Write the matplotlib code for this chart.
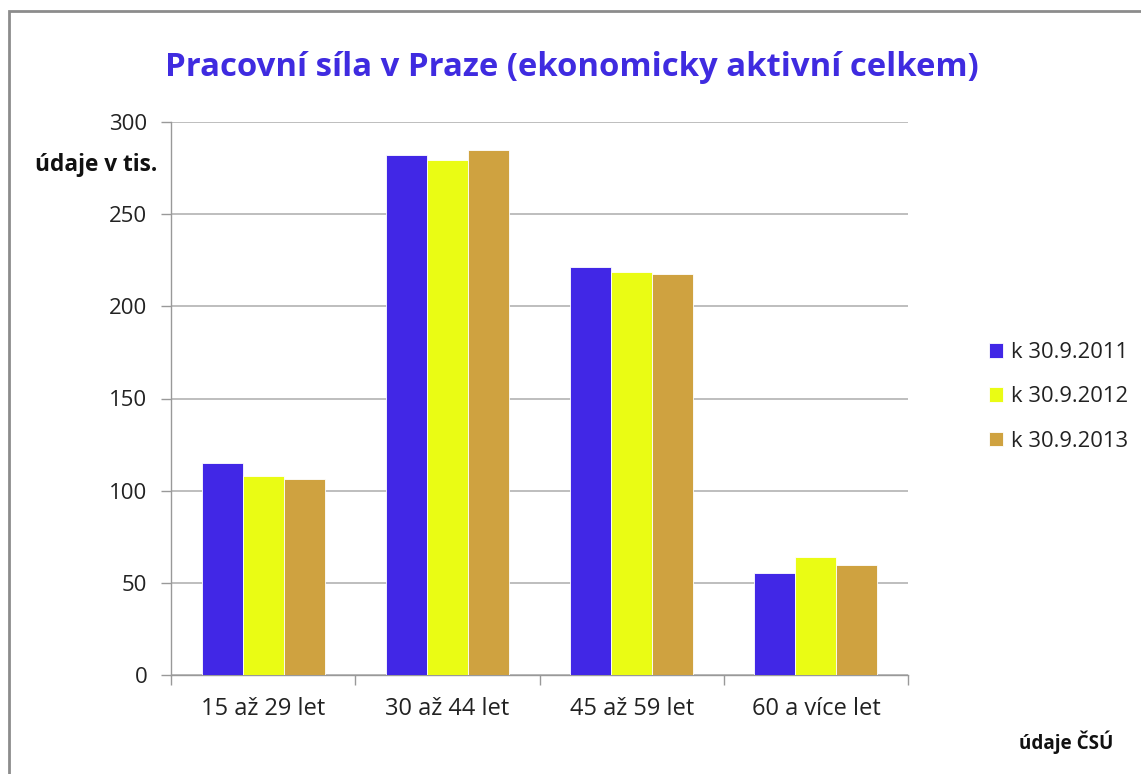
import matplotlib
matplotlib.use("Agg")
import matplotlib.pyplot as plt
import numpy as np
from matplotlib.patches import Rectangle

plt.rcParams['font.family'] = ['Open Sans', 'DejaVu Sans']

categories = ['15 až 29 let', '30 až 44 let', '45 až 59 let', '60 a více let']
series_names = ['k 30.9.2011', 'k 30.9.2012', 'k 30.9.2013']
v2011 = [115.0, 282.1, 221.5, 55.2]
v2012 = [108.0, 279.4, 218.8, 64.0]
v2013 = [106.3, 284.8, 217.6, 59.5]
colors = ['#4127E6', '#EAFC14', '#CFA240']

fig = plt.figure(figsize=(11.41, 7.74), dpi=100)
ax = fig.add_axes([171 / 1141, 1 - 675 / 774, 737 / 1141, 553 / 774])

x = np.arange(len(categories))
w = 1 / 4.5
for i, (vals, name, c) in enumerate(zip([v2011, v2012, v2013], series_names, colors)):
    ax.bar(x + (i - 1) * w, vals, width=w, color=c, edgecolor='#ffffff', linewidth=0.6,
           label=name, zorder=3)

ax.set_xlim(-0.5, 3.5)
ax.set_ylim(0, 300)
ax.set_yticks(range(0, 301, 50))
ax.yaxis.grid(True, color='#B3B3B3', linewidth=1.2, zorder=0)
ax.set_axisbelow(True)

ax.set_xticks(x)
ax.set_xticklabels(categories, fontsize=17, color='#222222')
ax.set_xticks(np.arange(-0.5, 4.0, 1.0), minor=True)
ax.tick_params(axis='x', which='major', length=0, pad=15.5)
ax.tick_params(axis='x', which='minor', length=7, color='#999999', width=1)
ax.tick_params(axis='y', length=7, color='#999999', width=1, labelsize=16,
               labelcolor='#222222', pad=10)

for s in ['top', 'right']:
    ax.spines[s].set_visible(False)
for s in ['left', 'bottom']:
    ax.spines[s].set_color('#999999')
    ax.spines[s].set_linewidth(1)

fig.text(572 / 1141, 1 - 68 / 774, 'Pracovní síla v Praze (ekonomicky aktivní celkem)',
         ha='center', va='center', fontsize=23.7, fontweight='bold', color='#3F2BE0')
fig.text(157 / 1141, 1 - 165 / 774, 'údaje v tis.', ha='right', va='center',
         fontsize=16.3, fontweight='bold', color='#111111')
fig.text(1113 / 1141, 1 - 742 / 774, 'údaje ČSÚ', ha='right', va='center',
         fontsize=13.6, fontweight='bold', color='#111111')

handles, labels = ax.get_legend_handles_labels()
fig.legend(handles, labels, loc='center left', bbox_to_anchor=(969 / 1141, 1 - 397 / 774),
           frameon=False, fontsize=15.8, handlelength=0.65, handleheight=0.65,
           handletextpad=0.35, labelspacing=1.05, labelcolor='#222222')

fig.add_artist(Rectangle((9 / 1141, -0.02), 1.05, 1 - 11 / 774 + 0.02,
                         transform=fig.transFigure, fill=False,
                         edgecolor='#8C8C8C', linewidth=2))

fig.savefig('out.png', dpi=100)
